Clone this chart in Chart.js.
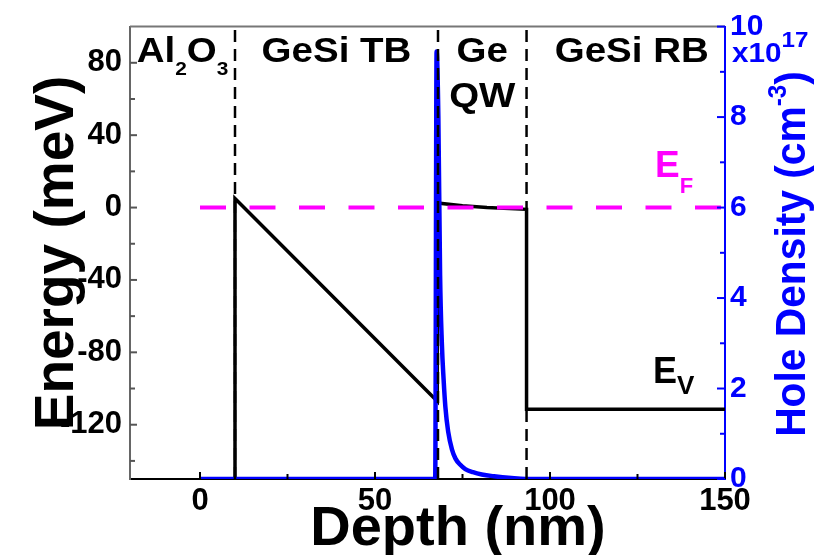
<!DOCTYPE html>
<html lang="en">
<head>
<meta charset="UTF-8">
<title>Valence band and hole density</title>
<style>
  html, body { margin: 0; padding: 0; background: #fff; }
  #wrap { width: 840px; height: 555px; }
</style>
<script src="https://cdn.jsdelivr.net/npm/chart.js"></script>
</head>
<body>
<div id="wrap"><canvas id="bandChart" width="840" height="555"></canvas></div>
<script>
const FONT = '"Liberation Sans", Arial, Helvetica, sans-serif';

// axis ranges
const depthRange = [-20, 150];
const energyRange = [-150, 100];
const densityRange = [0, 10];

// layer boundaries (nm)
const layerEdges = [10, 68, 93.3];

// valence band edge E_V (meV)
const evDepth  = [10, 10, 67.8, 67.8, 75, 82, 93.3, 93.3, 150];
const evEnergy = [-150, 5, -107, 2.5, 1, 0, -1, -111.5, -111.5];

// Fermi level E_F (meV)
const efDepth  = [0, 150];
const efEnergy = [0, 0];

// hole density (x10^17 cm^-3)
const holeDepth   = [0, 67.2, 67.6, 68.1, 68.6, 69.1, 69.6, 70.1, 70.9, 72.0, 73.0, 74.3, 75.8, 78.0, 80.5, 84.0, 89.0, 93.0, 150];
const holeDensity = [0, 0, 9.45, 8.0, 4.5, 3.0, 2.2, 1.6, 1.05, 0.65, 0.45, 0.32, 0.22, 0.15, 0.1, 0.06, 0.02, 0, 0];

// ticks
const depthTicks   = [0, 50, 100, 150];
const depthMinor   = [25, 75, 125];
const energyTicks  = [-120, -80, -40, 0, 40, 80];
const energyMinor  = [-140, -100, -60, -20, 20, 60];
const densityTicks = [0, 2, 4, 6, 8, 10];
const densityMinor = [1, 3, 5, 7, 9];

const toPoints = (xs, ys) => xs.map((x, i) => ({ x: x, y: ys[i] }));
const fixTicks = list => scale => { scale.ticks = list.map(v => ({ value: v })); };

// draws a row of text runs (for sub/superscripts), optionally rotated and stretched
function drawRuns(ctx, runs, x, y, opt) {
  opt = opt || {};
  ctx.save();
  ctx.translate(x, y);
  if (opt.rotate) ctx.rotate(opt.rotate);
  ctx.scale(opt.stretch || 1, 1);
  ctx.fillStyle = opt.color || '#000';
  ctx.textBaseline = 'alphabetic';
  ctx.textAlign = 'left';
  let total = 0;
  runs.forEach(r => {
    ctx.font = 'bold ' + r.size + 'px ' + FONT;
    r.w = ctx.measureText(r.text).width;
    total += r.w;
  });
  let cx = opt.align === 'center' ? -total / 2 : 0;
  runs.forEach(r => {
    ctx.font = 'bold ' + r.size + 'px ' + FONT;
    ctx.fillText(r.text, cx, r.dy || 0);
    cx += r.w;
  });
  ctx.restore();
}

function seg(ctx, x1, y1, x2, y2) {
  ctx.beginPath();
  ctx.moveTo(x1, y1);
  ctx.lineTo(x2, y2);
  ctx.stroke();
}

const decorations = {
  id: 'decorations',
  afterDraw(chart) {
    const { ctx, chartArea: a } = chart;
    const { x, y, y2 } = chart.scales;
    ctx.save();
    ctx.lineCap = 'butt';

    // top edge of the frame
    ctx.strokeStyle = '#777';
    ctx.lineWidth = 2;
    seg(ctx, a.left, a.top, a.right, a.top);

    // tick marks pointing into the plot
    ctx.strokeStyle = '#555';
    energyTicks.forEach(v => { const p = y.getPixelForValue(v); seg(ctx, a.left, p, a.left + 7, p); });
    energyMinor.forEach(v => { const p = y.getPixelForValue(v); seg(ctx, a.left, p, a.left + 5, p); });
    ctx.strokeStyle = '#000';
    depthTicks.forEach(v => { const p = x.getPixelForValue(v); seg(ctx, p, a.bottom, p, a.bottom - 7); });
    depthMinor.forEach(v => { const p = x.getPixelForValue(v); seg(ctx, p, a.bottom, p, a.bottom - 5); });
    ctx.strokeStyle = '#0000ff';
    densityTicks.forEach(v => { const p = y2.getPixelForValue(v); seg(ctx, a.right, p, a.right - 8, p); });
    densityMinor.forEach(v => { const p = y2.getPixelForValue(v); seg(ctx, a.right, p, a.right - 5, p); });
    ctx.restore();

    // layer names
    const mid = (d1, d2) => x.getPixelForValue((d1 + d2) / 2);
    const st = 1.1;
    drawRuns(ctx, [{ text: 'Al', size: 35 }, { text: '2', size: 19, dy: 13 },
                   { text: 'O', size: 35 }, { text: '3', size: 19, dy: 13 }],
             mid(depthRange[0], layerEdges[0]), 62, { align: 'center', stretch: st });
    drawRuns(ctx, [{ text: 'GeSi TB', size: 35 }], mid(layerEdges[0], layerEdges[1]), 62, { align: 'center', stretch: st });
    drawRuns(ctx, [{ text: 'Ge', size: 35 }], mid(layerEdges[1], layerEdges[2]), 62, { align: 'center', stretch: st });
    drawRuns(ctx, [{ text: 'QW', size: 35 }], mid(layerEdges[1], layerEdges[2]), 107, { align: 'center', stretch: st });
    drawRuns(ctx, [{ text: 'GeSi RB', size: 35 }], mid(layerEdges[2], depthRange[1]) + 6, 62, { align: 'center', stretch: st });

    // level labels
    drawRuns(ctx, [{ text: 'E', size: 37 }, { text: 'F', size: 22, dy: 16 }], 655, 177, { color: '#ff00ff' });
    drawRuns(ctx, [{ text: 'E', size: 36 }, { text: 'V', size: 26, dy: 11 }], 653, 383, {});

    // density multiplier
    drawRuns(ctx, [{ text: 'x10', size: 27 }, { text: '17', size: 22, dy: -15 }], 732, 62, { color: '#0000ff', stretch: 1.1 });

    // axis titles
    drawRuns(ctx, [{ text: 'Depth (nm)', size: 56 }], 458, 545, { align: 'center' });
    drawRuns(ctx, [{ text: 'Energy (meV)', size: 55 }], 73, 253, { align: 'center', rotate: -Math.PI / 2 });
    drawRuns(ctx, [{ text: 'Hole Density (cm', size: 42 }, { text: '-3', size: 25, dy: -19 }, { text: ')', size: 42 }],
             805, 254, { align: 'center', rotate: -Math.PI / 2, color: '#0000ff', stretch: 0.97 });
  }
};

const vline = d => ({
  data: [{ x: d, y: energyRange[0] }, { x: d, y: energyRange[1] }],
  yAxisID: 'y',
  borderColor: '#000',
  borderWidth: 2.5,
  borderDash: [12, 7],
  pointRadius: 0,
  order: 0
});

const tickFont = size => ({ family: FONT, size: size, weight: 'bold' });

new Chart(document.getElementById('bandChart'), {
  type: 'line',
  data: {
    datasets: [
      ...layerEdges.map(vline),
      {
        label: 'Hole density',
        data: toPoints(holeDepth, holeDensity),
        yAxisID: 'y2',
        borderColor: '#0000ff',
        borderWidth: 4.5,
        cubicInterpolationMode: 'monotone',
        pointRadius: 0,
        order: 1
      },
      {
        label: 'E_F',
        data: toPoints(efDepth, efEnergy),
        yAxisID: 'y',
        borderColor: '#ff00ff',
        borderWidth: 4,
        borderDash: [26, 23.5],
        pointRadius: 0,
        order: 2
      },
      {
        label: 'E_V',
        data: toPoints(evDepth, evEnergy),
        yAxisID: 'y',
        borderColor: '#000',
        borderWidth: 3.5,
        pointRadius: 0,
        order: 3
      }
    ]
  },
  options: {
    responsive: false,
    animation: false,
    layout: { padding: { top: 25, left: 0, right: 0, bottom: 0 } },
    plugins: { legend: { display: false }, tooltip: { enabled: false } },
    scales: {
      x: {
        type: 'linear',
        min: depthRange[0], max: depthRange[1],
        z: 1,
        afterBuildTicks: fixTicks(depthTicks),
        afterFit: s => { s.height = 76; },
        grid: { display: false, drawTicks: false },
        border: { color: '#000', width: 2 },
        ticks: { font: tickFont(31), color: '#000', padding: 4, autoSkip: false, maxRotation: 0 }
      },
      y: {
        type: 'linear',
        position: 'left',
        min: energyRange[0], max: energyRange[1],
        afterBuildTicks: fixTicks(energyTicks),
        afterFit: s => { s.width = 130; },
        grid: { display: false, drawTicks: false },
        border: { color: '#666', width: 2 },
        ticks: { font: tickFont(31), color: '#000', padding: 8, autoSkip: false }
      },
      y2: {
        type: 'linear',
        position: 'right',
        min: densityRange[0], max: densityRange[1],
        afterBuildTicks: fixTicks(densityTicks),
        afterFit: s => { s.width = 115; },
        grid: { display: false, drawTicks: false },
        border: { color: '#0000ff', width: 2 },
        ticks: { font: tickFont(30), color: '#0000ff', padding: 5, autoSkip: false }
      }
    }
  },
  plugins: [decorations]
});
</script>
</body>
</html>
